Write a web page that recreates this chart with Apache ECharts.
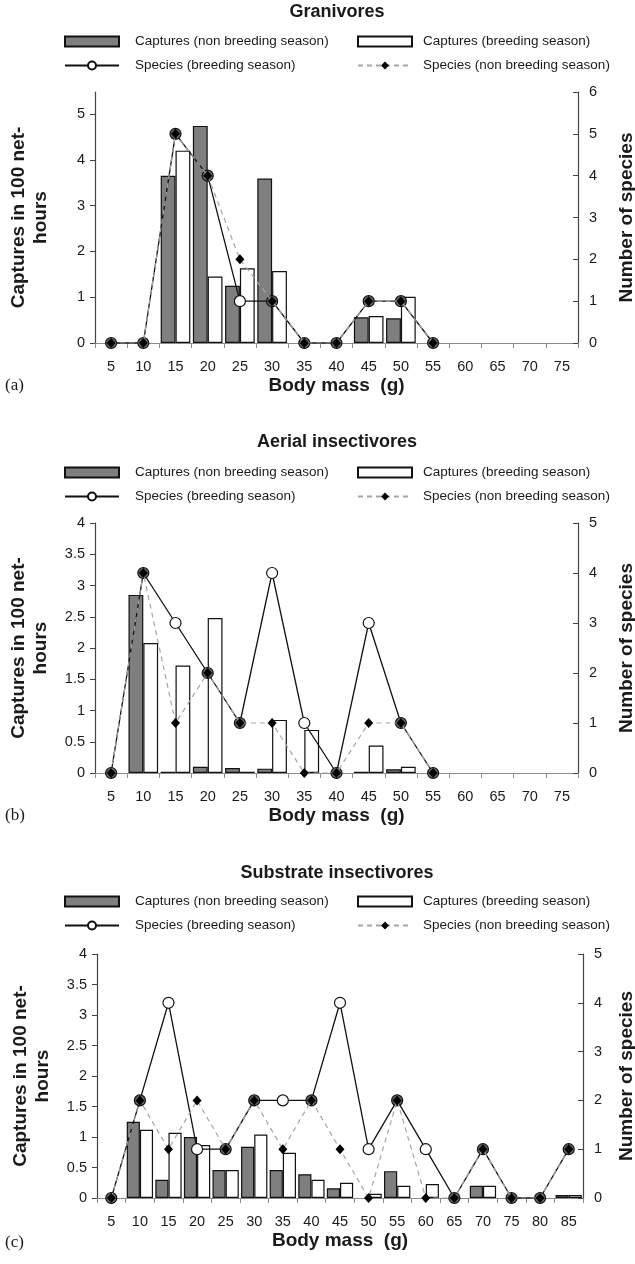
<!DOCTYPE html>
<html><head><meta charset="utf-8">
<script src="https://cdn.jsdelivr.net/npm/echarts@6/dist/echarts.min.js"></script>
<style>html,body{margin:0;padding:0;background:#fff}#c{width:635px;height:1264px}</style>
</head><body><div id="c"></div>
<script>
// ---- categories (body mass, g) ----
const massAB = ['5','10','15','20','25','30','35','40','45','50','55','60','65','70','75'];
const massC  = ['5','10','15','20','25','30','35','40','45','50','55','60','65','70','75','80','85'];

// ---- (a) Granivores ----
const granCapNonBreeding = [0,0,3.65,4.74,1.25,3.59,0,0,0.56,0.54,0,0,0,0,0];
const granCapBreeding    = [0,0,4.2,1.45,1.63,1.57,0,0,0.59,1.01,0,0,0,0,0];
const granSpBreeding     = [0,0,5,4,1,1,0,0,1,1,0,null,null,null,null];
const granSpNonBreeding  = [0,0,5,4,2,1,0,0,1,1,0,null,null,null,null];
const granLeftTicks  = [0,1,2,3,4,5];

// ---- (b) Aerial insectivores ----
const aerCapNonBreeding = [0,2.85,0.02,0.1,0.08,0.07,0,0,0.02,0.06,0,0,0,0,0];
const aerCapBreeding    = [0,2.08,1.72,2.48,0.02,0.85,0.69,0,0.44,0.1,0,0,0,0,0];
const aerSpBreeding     = [0,4,3,2,1,4,1,0,3,1,0,null,null,null,null];
const aerSpNonBreeding  = [0,4,1,2,1,1,0,0,1,1,0,null,null,null,null];
const aerLeftTicks = [0,0.5,1,1.5,2,2.5,3,3.5,4];

// ---- (c) Substrate insectivores ----
const subCapNonBreeding = [0,1.25,0.3,1.0,0.46,0.84,0.46,0.39,0.16,0,0.44,0,0,0.2,0,0,0.05];
const subCapBreeding    = [0,1.12,1.07,0.87,0.46,1.04,0.74,0.3,0.25,0.07,0.2,0.23,0,0.2,0,0,0.05];
const subSpBreeding     = [0,2,4,1,1,2,2,2,4,1,2,1,0,1,0,0,1];
const subSpNonBreeding  = [0,2,1,2,1,2,1,2,1,0,2,0,0,1,0,0,1];
const subLeftTicks = [0,0.5,1,1.5,2,2.5,3,3.5,4];

const FONT = '"Liberation Sans", Arial, Helvetica, sans-serif';
const N_NB = 'Captures (non breeding season)';
const N_B  = 'Captures (breeding season)';
const N_SB = 'Species (breeding season)';
const N_SNB= 'Species (non breeding season)';

const panels = [
  {title:'Granivores', letter:'(a)', cats:massAB, capNB:granCapNonBreeding, capB:granCapBreeding,
   spB:granSpBreeding, spNB:granSpNonBreeding, leftMax:5.48, leftInt:1, leftTicks:granLeftTicks, rightMax:6,
   grid:{left:95, top:92, width:483, height:251}, titleY:12, legY:41, letterY:386, rNameGap:39},
  {title:'Aerial insectivores', letter:'(b)', cats:massAB, capNB:aerCapNonBreeding, capB:aerCapBreeding,
   spB:aerSpBreeding, spNB:aerSpNonBreeding, leftMax:4, leftInt:0.5, leftTicks:aerLeftTicks, rightMax:5,
   grid:{left:95, top:523, width:483, height:250}, titleY:442, legY:472, letterY:816, rNameGap:39},
  {title:'Substrate insectivores', letter:'(c)', cats:massC, capNB:subCapNonBreeding, capB:subCapBreeding,
   spB:subSpBreeding, spNB:subSpNonBreeding, leftMax:4, leftInt:0.5, leftTicks:subLeftTicks, rightMax:5,
   grid:{left:97, top:954, width:486, height:244}, titleY:873, legY:901, letterY:1243, rNameGap:34}
];

const option = {animation:false, backgroundColor:'#fff', textStyle:{fontFamily:FONT},
  grid:[], xAxis:[], yAxis:[], series:[], legend:[], graphic:[]};

const txt = '#1a1a1a';
panels.forEach((p,i)=>{
  option.grid.push(Object.assign({containLabel:false, outerBoundsMode:'none'}, p.grid));
  option.xAxis.push({type:'category', gridIndex:i, data:p.cats, boundaryGap:true,
    axisLine:{lineStyle:{color:'#8c8c8c', width:1.2}},
    axisTick:{show:true, length:5, alignWithLabel:false, lineStyle:{color:'#8c8c8c'}},
    axisLabel:{fontSize:14.5, color:txt, margin:16, interval:0, fontFamily:FONT},
    name:'Body mass  (g)', nameLocation:'middle', nameGap:33,
    nameTextStyle:{fontSize:19, fontWeight:'bold', color:txt, fontFamily:FONT}});
  const lt = p.leftTicks;
  option.yAxis.push({type:'value', gridIndex:i, position:'left', min:0, max:p.leftMax, interval:p.leftInt,
    axisLine:{show:true, lineStyle:{color:'#444', width:1.2}},
    axisTick:{show:true, length:5, inside:false, customValues:lt, lineStyle:{color:'#444'}},
    axisLabel:{fontSize:14.5, color:txt, margin:10, customValues:lt, fontFamily:FONT,
      formatter:v=> lt.some(t=>Math.abs(t-v)<1e-6) ? String(v) : ''},
    splitLine:{show:false},
    name:'Captures in 100 net-\nhours', nameLocation:'middle', nameRotate:90, nameGap:43,
    nameTextStyle:{fontSize:19, fontWeight:'bold', lineHeight:22, color:txt, fontFamily:FONT, align:'center'}});
  option.yAxis.push({type:'value', gridIndex:i, position:'right', min:0, max:p.rightMax, interval:1,
    axisLine:{show:true, lineStyle:{color:'#444', width:1.2}},
    axisTick:{show:true, length:5, inside:true, lineStyle:{color:'#444'}},
    axisLabel:{fontSize:14.5, color:txt, margin:11, fontFamily:FONT},
    splitLine:{show:false},
    name:'Number of species', nameLocation:'middle', nameRotate:90, nameGap:p.rNameGap,
    nameTextStyle:{fontSize:19, fontWeight:'bold', color:txt, fontFamily:FONT}});

  const barCommon = {type:'bar', xAxisIndex:i, yAxisIndex:2*i, barGap:'0%', barCategoryGap:'8%', z:2};
  option.series.push(Object.assign({}, barCommon, {name:N_NB,
    data:p.capNB.map(v=>v===0?null:v),
    itemStyle:{color:'#7f7f7f', borderColor:'#111', borderWidth:1.2}}));
  option.series.push(Object.assign({}, barCommon, {name:N_B,
    data:p.capB.map(v=>v===0?null:v),
    itemStyle:{color:'#ffffff', borderColor:'#111', borderWidth:1.2}}));
  option.series.push({type:'line', name:N_SB, xAxisIndex:i, yAxisIndex:2*i+1, z:5,
    data:p.spB.map((v,k)=> v==null ? null : (v===p.spNB[k] ? {value:v, itemStyle:{color:'#6a6a6a'}} : v)),
    symbol:'circle', symbolSize:11, showAllSymbol:true,
    lineStyle:{color:'#111', width:1.3},
    itemStyle:{color:'#fff', borderColor:'#111', borderWidth:1.2}});
  option.series.push({type:'line', name:N_SNB, xAxisIndex:i, yAxisIndex:2*i+1, z:6,
    data:p.spNB, symbol:'diamond', symbolSize:[9,10], showAllSymbol:true,
    lineStyle:{color:'#a6a6a6', width:1.2, type:[5,4]},
    itemStyle:{color:'#000', borderWidth:0}});

  option.legend.push({left:64, top:p.legY-6.5, orient:'vertical', padding:0, itemWidth:54, itemHeight:10, itemGap:10,
    selectedMode:false, data:[{name:N_NB, icon:'rect'}, {name:N_SB}],
    textStyle:{fontSize:13.5, color:txt, fontFamily:FONT, padding:[0,0,0,11]}});
  option.legend.push({left:357, top:p.legY-6.5, orient:'vertical', padding:0, itemWidth:54, itemHeight:10, itemGap:10,
    selectedMode:false, data:[{name:N_B, icon:'rect'}, {name:N_SNB}],
    textStyle:{fontSize:13.5, color:txt, fontFamily:FONT, padding:[0,0,0,6]}});

  option.graphic.push({type:'text', x:337, y:p.titleY,
    style:{text:p.title, font:'bold 18px '+FONT, fill:txt, textAlign:'center', textVerticalAlign:'middle'}});
  option.graphic.push({type:'text', x:5, y:p.letterY,
    style:{text:p.letter, font:'17px "Liberation Serif", "Times New Roman", serif', fill:txt, textAlign:'left', textVerticalAlign:'middle'}});
});

const chart = echarts.init(document.getElementById('c'), null, {renderer:'canvas'});
chart.setOption(option);
</script></body></html>
